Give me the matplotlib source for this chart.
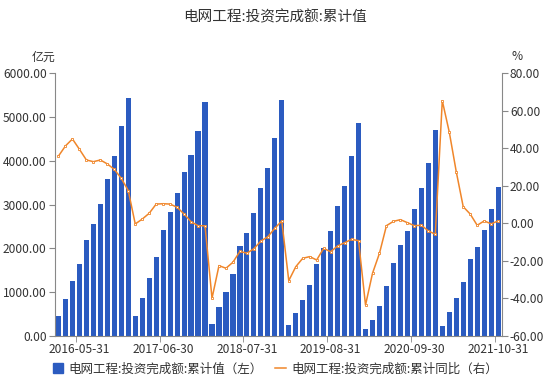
import numpy as np
import pandas as pd
import matplotlib
matplotlib.use("Agg")
import matplotlib.pyplot as plt
from matplotlib.lines import Line2D

plt.rcParams['font.family'] = ['Noto Sans CJK SC', 'DejaVu Sans']

# 累计值 (亿元), Feb..Dec each year (Jan merged into Feb)
cum_2016 = [457, 853, 1256, 1652, 2193, 2566, 3023, 3579, 4112, 4789, 5444]
cum_2017 = [457, 868, 1325, 1812, 2414, 2825, 3266, 3746, 4134, 4683, 5345]
cum_2018 = [274, 662, 1008, 1423, 2055, 2348, 2812, 3386, 3828, 4527, 5384]
cum_2019 = [251, 518, 818, 1168, 1654, 2010, 2390, 2958, 3422, 4122, 4855]
cum_2020 = [153, 372, 677, 1141, 1673, 2068, 2387, 2905, 3384, 3954, 4707]
cum_2021 = [235, 547, 859, 1239, 1749, 2023, 2418, 2897, 3406]

# 累计同比 (%)
yoy_2016 = [35.9, 41.3, 45.0, 39.5, 33.8, 32.9, 33.8, 31.7, 28.8, 24.0, 17.5]
yoy_2017 = [-0.3, 2.3, 5.4, 10.3, 10.5, 10.3, 8.6, 5.0, 0.9, -1.2, -1.3]
yoy_2018 = [-39.9, -22.5, -23.9, -20.7, -14.9, -15.9, -13.5, -9.4, -7.1, -2.6, 1.3]
yoy_2019 = [-30.5, -23.1, -18.6, -17.7, -19.5, -13.3, -15.1, -12.0, -10.3, -8.5, -9.2]
yoy_2020 = [-43.5, -26.6, -15.9, -1.2, 1.1, 2.0, 0.4, -1.2, -1.0, -4.0, -5.8]
yoy_2021 = [65.4, 48.7, 27.6, 8.9, 5.0, -1.0, 1.3, -0.2, 1.3]

years = [2016, 2017, 2018, 2019, 2020, 2021]
cum = cum_2016 + cum_2017 + cum_2018 + cum_2019 + cum_2020 + cum_2021
yoy = yoy_2016 + yoy_2017 + yoy_2018 + yoy_2019 + yoy_2020 + yoy_2021

dates = []
for y in years:
    last = 10 if y == 2021 else 12
    for m in range(2, last + 1):
        dates.append((pd.Timestamp(y, m, 1) + pd.offsets.MonthEnd(0)).strftime('%Y-%m-%d'))

bar_color = '#2B5BC0'
line_color = '#F0862A'
axis_color = '#888888'
text_color = '#333333'

fig = plt.figure(figsize=(5.5, 3.85), dpi=100)
ax = fig.add_axes([0.1, 0.1273, 0.812, 0.6823])
ax2 = ax.twinx()

x = np.arange(len(cum))
ax.bar(x, cum, width=0.74, color=bar_color, zorder=2)
ax2.plot(x, yoy, color=line_color, lw=1.1, marker='s', ms=2.0,
         mfc='white', mec=line_color, mew=0.6, zorder=3)

ax.set_xlim(-0.5, len(cum) - 0.5)
ax.set_ylim(0, 6000)
ax2.set_ylim(-60, 80)
ax.set_yticks(np.arange(0, 6001, 1000))
ax.set_yticklabels(['%.2f' % v for v in np.arange(0, 6001, 1000)])
ax2.set_yticks(np.arange(-60, 81, 20))
ax2.set_yticklabels(['%.2f' % v for v in np.arange(-60, 81, 20)])

lab_idx = list(range(3, len(cum), 12))
ax.set_xticks(lab_idx)
ax.set_xticklabels([dates[i] for i in lab_idx])
ax.set_xticks([i - 0.5 for i in lab_idx], minor=True)
ax.tick_params(axis='x', which='major', length=0, pad=5, labelsize=8.6, colors=text_color)
ax.tick_params(axis='x', which='minor', length=4, color=axis_color)

for a in (ax, ax2):
    a.spines['top'].set_visible(False)
    for s in ('left', 'right', 'bottom'):
        a.spines[s].set_color(axis_color)
        a.spines[s].set_linewidth(0.8)
ax.spines['right'].set_visible(False)
ax2.spines['left'].set_visible(False)
ax2.spines['bottom'].set_visible(False)

ax.tick_params(axis='y', length=4, color=axis_color, labelsize=8.6, labelcolor=text_color, pad=2)
ax2.tick_params(axis='y', length=4, color=axis_color, labelsize=8.6, labelcolor=text_color, pad=2)

fig.text(0.5, 1 - 17 / 385, '电网工程:投资完成额:累计值', ha='center', va='center',
         fontsize=10.5, color=text_color)
fig.text(44 / 550, 1 - 57 / 385, '亿元', ha='center', va='center', fontsize=8.6, color=text_color)
fig.text(517 / 550, 1 - 57 / 385, '%', ha='center', va='center', fontsize=8.6, color=text_color)

handles = [Line2D([], [], ls='none', marker='s', ms=7, color=bar_color),
           Line2D([], [], color=line_color, lw=1.1)]
labels = ['电网工程:投资完成额:累计值（左）', '电网工程:投资完成额:累计同比（右）']
leg = fig.legend(handles, labels, loc='center', bbox_to_anchor=(0.5, 1 - 369 / 385),
                 ncol=2, frameon=False, fontsize=9.0, handlelength=0.9,
                 handletextpad=0.4, columnspacing=1.0)
for t in leg.get_texts():
    t.set_color(text_color)

fig.savefig('out.png', dpi=100)
